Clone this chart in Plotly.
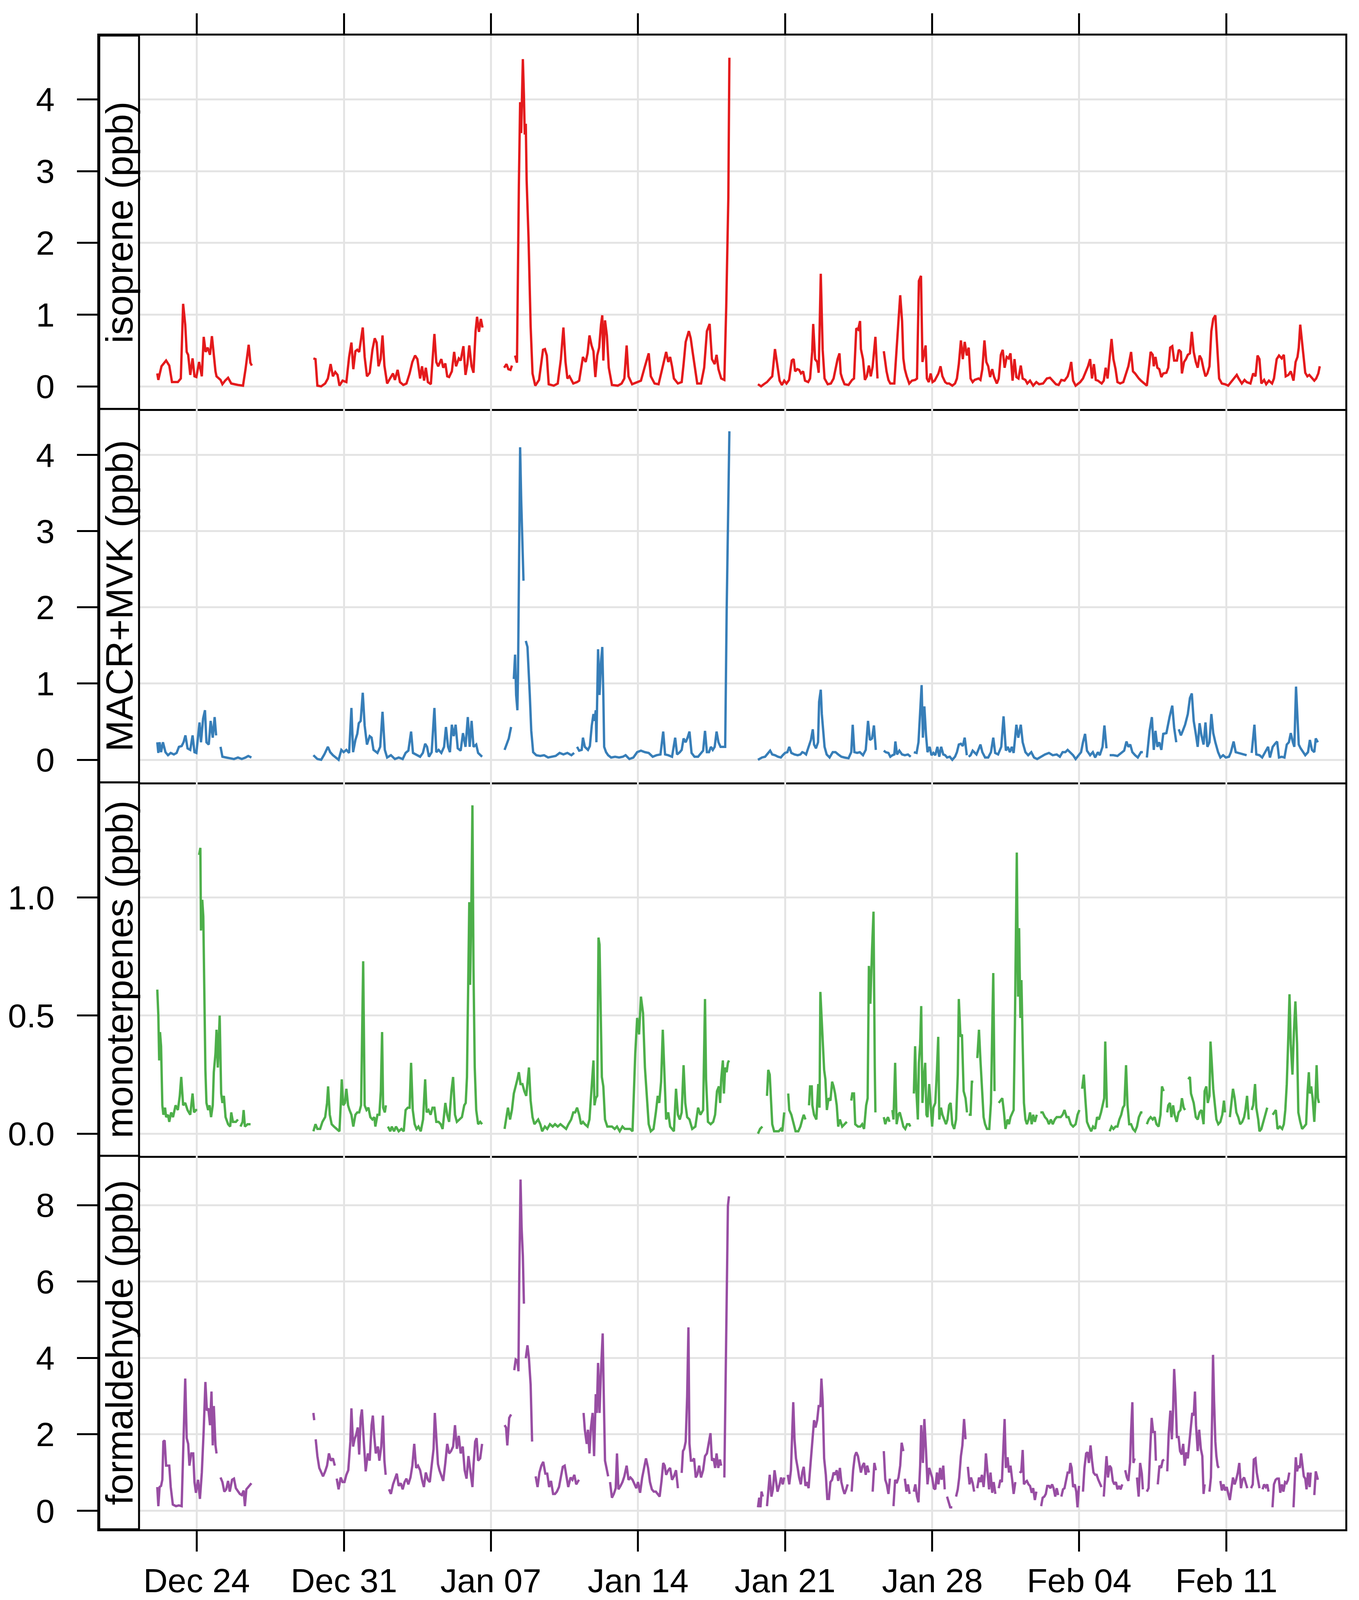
import plotly.graph_objects as go
from plotly.subplots import make_subplots
from datetime import datetime, timedelta

# time is given in days after Dec 24 00:00, None breaks the line
start = datetime(2014, 12, 24)

isoprene = [
    (-1.88,0.18),(-1.83,0.09),(-1.68,0.28),(-1.46,0.36),(-1.31,0.29),(-1.18,0.06),(-0.9,0.06),(-0.76,0.11),
    (-0.65,1.15),(-0.55,0.86),(-0.48,0.48),(-0.41,0.44),(-0.31,0.16),(-0.2,0.39),(-0.11,0.14),(-0.02,0.13),
    (0.11,0.34),(0.24,0.14),(0.33,0.69),(0.42,0.48),(0.52,0.54),(0.63,0.44),(0.72,0.70),(0.81,0.39),
    (0.89,0.21),(0.94,0.14),(1.13,0.09),(1.22,0.03),(1.35,0.08),(1.49,0.12),(1.64,0.04),(1.96,0.02),
    (2.2,0.01),(2.32,0.24),(2.47,0.58),(2.55,0.33),(2.62,0.29), None,
    (5.55,0.39),(5.65,0.38),(5.74,0.01),(5.92,0.0),(6.11,0.04),(6.24,0.11),(6.37,0.31),(6.48,0.14),
    (6.59,0.2),(6.7,0.16),(6.79,0.01),(6.94,0.08),(7.12,0.06),(7.25,0.41),(7.36,0.61),(7.45,0.24),
    (7.55,0.49),(7.64,0.51),(7.73,0.48),(7.9,0.82),(7.99,0.41),(8.1,0.14),(8.23,0.19),(8.36,0.51),
    (8.47,0.67),(8.56,0.61),(8.65,0.28),(8.75,0.38),(8.84,0.71),(8.93,0.29),(9.06,0.04),(9.19,0.11),
    (9.34,0.18),(9.43,0.09),(9.56,0.23),(9.67,0.06),(9.83,0.02),(9.98,0.04),(10.13,0.18),(10.26,0.34),
    (10.39,0.43),(10.5,0.38),(10.63,0.11),(10.72,0.28),(10.82,0.08),(10.9,0.26),(11.0,0.06),(11.14,0.03),
    (11.31,0.73),(11.4,0.34),(11.49,0.28),(11.64,0.38),(11.73,0.26),(11.83,0.32),(11.92,0.14),(12.01,0.13),
    (12.14,0.21),(12.25,0.48),(12.34,0.28),(12.47,0.39),(12.56,0.36),(12.69,0.56),(12.79,0.16),(12.88,0.31),
    (12.97,0.57),(13.08,0.28),(13.17,0.19),(13.27,0.77),(13.34,0.97),(13.43,0.76),(13.52,0.94),(13.6,0.82), None,
    (14.63,0.26),(14.74,0.31),(14.83,0.24),(14.93,0.23),(15.0,0.29), None,
    (15.15,0.43),(15.24,0.33),(15.33,2.8),(15.39,3.96),(15.44,3.53),(15.52,4.56),(15.57,4.06),(15.61,3.51),
    (15.66,3.66),(15.7,2.87),(15.79,2.07),(15.89,0.84),(15.98,0.18),(16.11,0.01),(16.29,0.09),(16.48,0.51),
    (16.57,0.52),(16.66,0.43),(16.75,0.03),(16.99,0.01),(17.18,0.04),(17.33,0.38),(17.45,0.82),(17.55,0.34),
    (17.64,0.11),(17.74,0.14),(17.92,0.04),(18.1,0.06),(18.2,0.08),(18.38,0.41),(18.51,0.34),(18.6,0.46),
    (18.69,0.71),(18.79,0.57),(18.88,0.49),(18.97,0.13),(19.06,0.43),(19.15,0.54),(19.24,0.86),(19.3,0.99),
    (19.35,0.36),(19.43,0.92),(19.52,0.71),(19.61,0.26),(19.76,0.02),(20.04,0.01),(20.22,0.04),(20.35,0.11),
    (20.46,0.57),(20.55,0.14),(20.72,0.03),(20.96,0.06),(21.14,0.08),(21.33,0.28),(21.51,0.46),(21.61,0.14),
    (21.79,0.04),(21.98,0.03),(22.16,0.26),(22.34,0.48),(22.44,0.34),(22.53,0.41),(22.62,0.28),(22.71,0.11),
    (22.9,0.04),(23.08,0.06),(23.17,0.31),(23.27,0.62),(23.42,0.77),(23.51,0.67),(23.6,0.48),(23.73,0.24),
    (23.82,0.04),(24.0,0.04),(24.15,0.26),(24.28,0.77),(24.41,0.87),(24.52,0.38),(24.65,0.31),(24.74,0.44),
    (24.83,0.24),(24.96,0.11),(25.11,0.09),(25.2,1.11),(25.3,2.63),(25.35,4.58), None,
    (26.71,0.03),(26.86,0.0),(26.99,0.03),(27.14,0.06),(27.29,0.11),(27.39,0.14),(27.52,0.52),(27.59,0.38),
    (27.66,0.29),(27.74,0.08),(27.85,0.02),(27.96,0.08),(28.07,0.04),(28.19,0.09),(28.32,0.36),(28.41,0.38),
    (28.48,0.21),(28.58,0.24),(28.67,0.23),(28.76,0.18),(28.86,0.21),(28.95,0.08),(29.1,0.06),(29.19,0.11),
    (29.29,0.48),(29.34,0.87),(29.43,0.38),(29.53,0.34),(29.6,0.19),(29.7,1.57),(29.79,0.51),(29.88,0.11),
    (30.03,0.03),(30.18,0.04),(30.31,0.11),(30.4,0.24),(30.5,0.38),(30.59,0.46),(30.65,0.18),(30.72,0.11),
    (30.83,0.03),(31.02,0.02),(31.19,0.09),(31.28,0.11),(31.39,0.81),(31.48,0.79),(31.57,0.91),(31.61,0.52),
    (31.71,0.38),(31.8,0.09),(31.89,0.14),(31.99,0.29),(32.08,0.14),(32.17,0.28),(32.3,0.69),(32.4,0.11), None,
    (32.7,0.49),(32.83,0.21),(32.92,0.09),(33.01,0.04),(33.2,0.04),(33.29,0.41),(33.37,0.82),(33.48,1.27),
    (33.57,0.91),(33.63,0.39),(33.7,0.24),(33.79,0.14),(33.91,0.04),(34.04,0.08),(34.19,0.09),(34.28,0.11),
    (34.37,1.47),(34.47,1.54),(34.54,0.34),(34.6,0.44),(34.69,0.57),(34.75,0.11),(34.84,0.06),(34.93,0.18),
    (35.02,0.06),(35.12,0.08),(35.21,0.14),(35.3,0.18),(35.4,0.28),(35.49,0.14),(35.62,0.06),(35.71,0.04),
    (35.81,0.04),(35.96,0.01),(36.09,0.04),(36.18,0.11),(36.27,0.31),(36.37,0.64),(36.46,0.38),(36.55,0.62),
    (36.65,0.43),(36.74,0.54),(36.83,0.11),(36.93,0.06),(37.02,0.09),(37.21,0.11),(37.3,0.09),(37.39,0.24),
    (37.49,0.64),(37.58,0.34),(37.67,0.28),(37.76,0.13),(37.86,0.24),(37.95,0.13),(38.08,0.04),(38.17,0.11),
    (38.27,0.44),(38.36,0.51),(38.45,0.26),(38.55,0.41),(38.64,0.39),(38.73,0.46),(38.83,0.08),(38.92,0.38),
    (39.01,0.13),(39.11,0.11),(39.22,0.29),(39.31,0.11),(39.44,0.09),(39.53,0.04),(39.66,0.08),(39.81,0.01),
    (39.96,0.06),(40.09,0.03),(40.28,0.04),(40.46,0.11),(40.61,0.12),(40.74,0.08),(40.89,0.03),(41.02,0.02),
    (41.15,0.09),(41.3,0.08),(41.45,0.14),(41.55,0.24),(41.62,0.34),(41.71,0.08),(41.83,0.01),(41.96,0.04),
    (42.05,0.06),(42.18,0.11),(42.33,0.21),(42.42,0.28),(42.52,0.38),(42.61,0.11),(42.7,0.31),(42.79,0.09),
    (42.89,0.08),(43.07,0.04),(43.17,0.08),(43.26,0.26),(43.35,0.11),(43.45,0.38),(43.54,0.66),(43.63,0.38),
    (43.73,0.24),(43.82,0.06),(43.95,0.04),(44.1,0.06),(44.23,0.18),(44.34,0.28),(44.47,0.48),(44.56,0.21),
    (44.66,0.18),(44.75,0.14),(44.84,0.11),(44.94,0.08),(45.12,0.04),(45.22,0.01),(45.31,0.24),(45.4,0.48),
    (45.5,0.44),(45.55,0.28),(45.63,0.41),(45.72,0.26),(45.81,0.24),(45.91,0.13),(46.0,0.18),(46.15,0.19),
    (46.24,0.26),(46.33,0.54),(46.43,0.56),(46.52,0.36),(46.65,0.36),(46.74,0.51),(46.84,0.48),(46.89,0.18),
    (46.99,0.34),(47.08,0.38),(47.17,0.44),(47.27,0.46),(47.36,0.76),(47.45,0.48),(47.55,0.34),(47.64,0.26),
    (47.73,0.43),(47.82,0.38),(47.92,0.24),(48.01,0.14),(48.1,0.18),(48.2,0.28),(48.29,0.77),(48.38,0.94),
    (48.48,0.99),(48.57,0.57),(48.66,0.11),(48.79,0.04),(48.94,0.03),(49.09,0.01),(49.22,0.06),(49.35,0.11),
    (49.5,0.16),(49.59,0.11),(49.74,0.04),(49.87,0.09),(49.97,0.06),(50.15,0.04),(50.28,0.18),(50.39,0.14),
    (50.49,0.43),(50.58,0.38),(50.67,0.04),(50.8,0.09),(50.9,0.03),(51.03,0.08),(51.18,0.04),(51.27,0.11),
    (51.4,0.38),(51.51,0.43),(51.64,0.39),(51.74,0.44),(51.83,0.14),(51.96,0.16),(52.07,0.21),(52.2,0.08),
    (52.3,0.34),(52.39,0.41),(52.45,0.54),(52.52,0.86),(52.61,0.61),(52.67,0.38),(52.76,0.19),(52.86,0.14),
    (52.95,0.16),(53.04,0.13),(53.19,0.08),(53.28,0.11),(53.38,0.18),(53.45,0.28),
]

macr_mvk = [
    (-1.88,0.23),(-1.83,0.09),(-1.77,0.23),(-1.7,0.1),(-1.61,0.23),(-1.49,0.1),(-1.37,0.06),(-1.24,0.09),
    (-1.09,0.07),(-0.96,0.09),(-0.85,0.17),(-0.72,0.18),(-0.63,0.23),(-0.54,0.32),(-0.44,0.15),(-0.31,0.13),
    (-0.2,0.32),(-0.11,0.1),(-0.02,0.09),(0.13,0.49),(0.2,0.23),(0.3,0.54),(0.39,0.65),(0.46,0.23),
    (0.57,0.2),(0.66,0.51),(0.76,0.29),(0.85,0.56),(0.92,0.32), None,
    (1.13,0.17),(1.22,0.04),(1.4,0.03),(1.59,0.02),(1.77,0.01),(1.96,0.03),(2.14,0.01),(2.32,0.03),
    (2.45,0.05),(2.6,0.03), None,
    (5.55,0.06),(5.74,0.01),(5.92,0.0),(6.07,0.07),(6.24,0.17),(6.35,0.1),(6.48,0.06),(6.62,0.03),
    (6.75,0.0),(6.88,0.13),(6.99,0.1),(7.12,0.13),(7.25,0.09),(7.36,0.68),(7.44,0.1),(7.55,0.26),
    (7.64,0.34),(7.71,0.48),(7.8,0.51),(7.9,0.88),(7.99,0.45),(8.1,0.2),(8.23,0.31),(8.32,0.29),
    (8.41,0.13),(8.6,0.09),(8.73,0.17),(8.84,0.63),(8.95,0.13),(9.06,0.03),(9.24,0.06),(9.43,0.01),
    (9.61,0.03),(9.8,0.01),(9.94,0.09),(10.07,0.12),(10.2,0.37),(10.29,0.09),(10.44,0.07),(10.63,0.04),
    (10.76,0.09),(10.87,0.21),(10.96,0.17),(11.05,0.04),(11.18,0.1),(11.31,0.68),(11.4,0.1),(11.51,0.13),
    (11.64,0.09),(11.77,0.17),(11.86,0.43),(11.96,0.17),(12.05,0.1),(12.14,0.46),(12.23,0.31),(12.32,0.46),
    (12.42,0.15),(12.56,0.12),(12.67,0.35),(12.79,0.17),(12.9,0.56),(12.99,0.17),(13.08,0.51),(13.17,0.17),
    (13.3,0.2),(13.39,0.09),(13.58,0.04), None,
    (14.65,0.13),(14.74,0.2),(14.85,0.28),(14.96,0.43), None,
    (15.09,1.06),(15.15,1.38),(15.2,0.85),(15.26,0.65),(15.29,1.13),(15.33,2.42),(15.39,4.1),(15.44,3.42),
    (15.5,2.85),(15.55,2.35), None,
    (15.66,1.56),(15.74,1.48),(15.85,0.85),(15.92,0.38),(16.01,0.1),(16.16,0.06),(16.35,0.05),(16.53,0.06),
    (16.72,0.03),(16.9,0.04),(17.08,0.05),(17.27,0.09),(17.45,0.07),(17.64,0.09),(17.83,0.06),(17.96,0.09), None,
    (18.1,0.17),(18.2,0.12),(18.32,0.13),(18.38,0.29),(18.47,0.17),(18.62,0.13),(18.71,0.18),(18.8,0.45),
    (18.88,0.6),(18.93,0.51),(18.99,0.65),(19.02,0.23),(19.1,1.45),(19.17,0.85),(19.24,1.29),(19.3,1.48),
    (19.35,0.85),(19.39,0.17),(19.48,0.1),(19.58,0.06),(19.72,0.03),(19.91,0.04),(20.1,0.03),(20.28,0.04),
    (20.41,0.06),(20.59,0.01),(20.78,0.03),(20.96,0.1),(21.14,0.12),(21.33,0.1),(21.51,0.09),(21.7,0.04),
    (21.88,0.06),(22.07,0.07),(22.2,0.37),(22.29,0.07),(22.44,0.06),(22.62,0.04),(22.77,0.29),(22.86,0.07),
    (22.99,0.1),(23.08,0.13),(23.17,0.28),(23.27,0.23),(23.36,0.29),(23.45,0.37),(23.55,0.09),(23.69,0.04),
    (23.86,0.04),(24.0,0.09),(24.1,0.12),(24.19,0.38),(24.28,0.1),(24.38,0.1),(24.47,0.17),(24.56,0.13),
    (24.65,0.17),(24.74,0.37),(24.83,0.23),(24.93,0.17),(25.07,0.17),(25.15,0.17),(25.22,1.95),(25.3,3.35),
    (25.35,4.31), None,
    (26.71,0.0),(26.9,0.03),(27.05,0.04),(27.18,0.09),(27.29,0.12),(27.39,0.07),(27.52,0.06),(27.66,0.04),
    (27.8,0.03),(27.89,0.06),(28.0,0.09),(28.11,0.1),(28.2,0.17),(28.3,0.09),(28.45,0.07),(28.6,0.06),
    (28.73,0.07),(28.82,0.1),(28.91,0.09),(29.0,0.07),(29.14,0.18),(29.23,0.26),(29.32,0.4),(29.38,0.2),
    (29.47,0.15),(29.57,0.23),(29.62,0.76),(29.7,0.92),(29.75,0.6),(29.81,0.42),(29.88,0.17),(29.98,0.07),
    (30.12,0.03),(30.27,0.1),(30.4,0.1),(30.53,0.07),(30.68,0.04),(30.83,0.03),(31.02,0.02),(31.15,0.1),
    (31.22,0.46),(31.3,0.1),(31.43,0.09),(31.56,0.1),(31.71,0.06),(31.84,0.13),(31.95,0.51),(32.04,0.26),
    (32.14,0.28),(32.23,0.45),(32.32,0.13), None,
    (32.7,0.12),(32.79,0.1),(32.92,0.09),(33.01,0.04),(33.11,0.06),(33.2,0.07),(33.25,0.24),(33.33,0.07),
    (33.44,0.12),(33.57,0.07),(33.7,0.06),(33.85,0.07),(33.98,0.04), None,
    (34.13,0.1),(34.26,0.09),(34.35,0.23),(34.43,0.7),(34.5,0.98),(34.56,0.29),(34.63,0.7),(34.71,0.32),
    (34.78,0.1),(34.88,0.17),(34.97,0.06),(35.06,0.09),(35.15,0.06),(35.25,0.17),(35.34,0.04),(35.43,0.17),
    (35.53,0.07),(35.62,0.06),(35.71,0.03),(35.84,0.04),(35.96,0.0),(36.09,0.04),(36.18,0.1),(36.27,0.2),
    (36.37,0.21),(36.46,0.18),(36.55,0.29),(36.65,0.06), None,
    (36.74,0.04),(36.83,0.06),(36.93,0.12),(37.02,0.09),(37.11,0.07),(37.2,0.13),(37.3,0.2),(37.39,0.1),
    (37.52,0.03),(37.67,0.03),(37.8,0.1),(37.91,0.29),(38.0,0.09),(38.14,0.07),(38.29,0.17),(38.4,0.57),
    (38.51,0.12),(38.6,0.17),(38.7,0.1),(38.79,0.17),(38.88,0.09),(39.01,0.46),(39.1,0.29),(39.22,0.46),
    (39.31,0.23),(39.44,0.1),(39.57,0.06),(39.72,0.1),(39.85,0.03),(40.0,0.01),(40.19,0.04),(40.37,0.07),
    (40.56,0.09),(40.74,0.06),(40.93,0.07),(41.08,0.04),(41.21,0.1),(41.34,0.1),(41.45,0.13),(41.58,0.09),
    (41.71,0.06),(41.83,0.01),(41.96,0.06),(42.09,0.1),(42.18,0.23),(42.28,0.34),(42.37,0.12),(42.52,0.06),
    (42.65,0.1),(42.76,0.03),(42.89,0.1),(42.98,0.06),(43.11,0.17),(43.2,0.45),(43.3,0.15), None,
    (43.45,0.06),(43.63,0.06),(43.82,0.05),(44.0,0.09),(44.14,0.12),(44.25,0.24),(44.34,0.17),(44.43,0.2),
    (44.53,0.1),(44.66,0.06),(44.79,0.03),(44.94,0.1),(45.03,0.1), None,
    (45.22,0.03),(45.35,0.38),(45.46,0.56),(45.55,0.13),(45.63,0.38),(45.72,0.17),(45.81,0.23),(45.91,0.13),
    (46.0,0.34),(46.15,0.35),(46.3,0.56),(46.43,0.71),(46.52,0.42),(46.62,0.23), None,
    (46.74,0.4),(46.84,0.32),(46.93,0.38),(47.04,0.46),(47.17,0.6),(47.27,0.81),(47.36,0.87),(47.45,0.51),
    (47.55,0.34),(47.64,0.17),(47.73,0.48),(47.82,0.32),(47.92,0.2),(48.01,0.49),(48.1,0.17),(48.2,0.23),
    (48.29,0.6),(48.38,0.35),(48.48,0.23),(48.61,0.1),(48.72,0.03),(48.85,0.06),(48.98,0.03),(49.13,0.04),
    (49.22,0.1),(49.35,0.24),(49.45,0.1),(49.59,0.09),(49.78,0.07),(49.97,0.06), None,
    (50.21,0.09),(50.34,0.46),(50.43,0.07),(50.58,0.06),(50.71,0.03),(50.84,0.1),(50.99,0.17),(51.08,0.03),
    (51.21,0.17),(51.32,0.21),(51.42,0.24),(51.51,0.03),(51.64,0.04),(51.77,0.03),(51.88,0.2),(51.98,0.23),
    (52.07,0.35),(52.17,0.23),(52.24,0.17),(52.32,0.96),(52.39,0.54),(52.45,0.2),(52.54,0.15),(52.67,0.09),
    (52.76,0.06),(52.89,0.1),(52.98,0.26),(53.08,0.13),(53.19,0.1),(53.26,0.28),(53.36,0.23),
]

monoterpenes = [
    (-1.88,0.61),(-1.83,0.5),(-1.79,0.31),(-1.75,0.43),(-1.7,0.37),(-1.64,0.12),(-1.59,0.08),(-1.51,0.11),
    (-1.46,0.07),(-1.37,0.08),(-1.31,0.05),(-1.22,0.09),(-1.13,0.07),(-1.01,0.12),(-0.9,0.1),(-0.81,0.16),
    (-0.74,0.24),(-0.65,0.12),(-0.55,0.13),(-0.44,0.1),(-0.31,0.08),(-0.2,0.17),(-0.13,0.09),(-0.04,0.1),
    (0.02,0.1), None,
    (0.11,1.18),(0.17,1.21),(0.2,0.86),(0.26,0.99),(0.31,0.92),(0.35,0.66),(0.41,0.27),(0.46,0.13),
    (0.54,0.1),(0.61,0.12),(0.68,0.07),(0.76,0.12),(0.81,0.26),(0.89,0.34),(0.94,0.44),(1.0,0.28),
    (1.09,0.5),(1.16,0.17),(1.22,0.13),(1.29,0.16),(1.37,0.07),(1.49,0.04),(1.59,0.03),(1.64,0.09),
    (1.72,0.05),(1.86,0.05),(1.96,0.06), None,
    (2.08,0.03),(2.18,0.05),(2.23,0.1),(2.29,0.03),(2.42,0.04),(2.56,0.04), None,
    (5.55,0.01),(5.65,0.04),(5.74,0.02),(5.87,0.02),(5.98,0.05),(6.11,0.07),(6.2,0.13),(6.25,0.2),
    (6.33,0.08),(6.42,0.04),(6.53,0.03),(6.66,0.02),(6.79,0.01),(6.85,0.12),(6.9,0.23),(6.97,0.12),
    (7.05,0.13),(7.12,0.19),(7.2,0.12),(7.27,0.1),(7.36,0.08),(7.45,0.03),(7.55,0.08),(7.64,0.09),
    (7.73,0.09),(7.82,0.12),(7.88,0.42),(7.92,0.73),(7.99,0.12),(8.08,0.1),(8.17,0.11),(8.26,0.07),
    (8.36,0.06),(8.45,0.07),(8.5,0.03),(8.6,0.08),(8.69,0.08),(8.76,0.18),(8.82,0.43),(8.87,0.11),
    (8.95,0.09),(9.0,0.12), None,
    (9.1,0.03),(9.21,0.01),(9.28,0.03),(9.39,0.01),(9.48,0.03),(9.61,0.01),(9.74,0.02),(9.85,0.01),
    (9.94,0.1),(10.04,0.11),(10.13,0.11),(10.2,0.3),(10.28,0.1),(10.37,0.04),(10.46,0.02),(10.55,0.03),
    (10.66,0.01),(10.77,0.06),(10.87,0.23),(10.94,0.09),(11.03,0.1),(11.13,0.08),(11.22,0.11),(11.31,0.11),
    (11.4,0.05),(11.51,0.05),(11.61,0.04),(11.7,0.02),(11.83,0.13),(11.92,0.08),(12.01,0.05),(12.12,0.18),
    (12.2,0.24),(12.29,0.08),(12.38,0.05),(12.49,0.06),(12.62,0.07),(12.73,0.12),(12.8,0.13),(12.86,0.24),
    (12.92,0.72),(12.97,0.98),(13.01,0.63),(13.06,0.9),(13.12,1.39),(13.17,0.7),(13.23,0.28),(13.3,0.1),
    (13.39,0.04),(13.49,0.05),(13.58,0.04), None,
    (14.65,0.02),(14.74,0.08),(14.81,0.11),(14.91,0.06),(15.0,0.1),(15.09,0.17),(15.18,0.2),(15.26,0.23),
    (15.33,0.26),(15.41,0.21),(15.5,0.21),(15.59,0.18),(15.68,0.16),(15.76,0.23),(15.81,0.28),(15.89,0.14),
    (15.98,0.07),(16.07,0.04),(16.16,0.05),(16.25,0.06),(16.35,0.04),(16.44,0.01),(16.57,0.03),(16.68,0.02),
    (16.81,0.04),(16.94,0.03),(17.05,0.04),(17.18,0.03),(17.31,0.04),(17.46,0.03),(17.58,0.02),(17.69,0.04),
    (17.82,0.06),(17.92,0.09),(18.01,0.09),(18.1,0.11),(18.2,0.08),(18.29,0.04),(18.38,0.05),(18.47,0.04),
    (18.6,0.03),(18.69,0.06),(18.77,0.18),(18.82,0.24),(18.88,0.31),(18.93,0.12),(18.99,0.15),(19.06,0.16),
    (19.12,0.83),(19.17,0.8),(19.23,0.52),(19.28,0.24),(19.35,0.2),(19.43,0.06),(19.54,0.03),(19.67,0.03),
    (19.76,0.03),(19.89,0.02),(20.0,0.03),(20.13,0.01),(20.26,0.03),(20.37,0.02),(20.5,0.02),(20.63,0.02),
    (20.74,0.01),(20.81,0.18),(20.87,0.34),(20.96,0.49),(21.05,0.42),(21.14,0.58),(21.24,0.51),(21.33,0.28),
    (21.42,0.16),(21.51,0.04),(21.61,0.01),(21.74,0.02),(21.85,0.09),(21.94,0.16),(22.01,0.13),(22.1,0.22),
    (22.18,0.44),(22.25,0.25),(22.34,0.06),(22.44,0.09),(22.53,0.03),(22.62,0.02),(22.71,0.01),(22.81,0.19),
    (22.9,0.08),(22.99,0.06),(23.08,0.09),(23.17,0.29),(23.25,0.13),(23.34,0.07),(23.45,0.06),(23.58,0.02),
    (23.73,0.03),(23.86,0.11),(23.97,0.08),(24.1,0.1),(24.15,0.43),(24.19,0.57),(24.24,0.23),(24.33,0.05),
    (24.46,0.04),(24.58,0.05),(24.67,0.08),(24.76,0.18),(24.85,0.2),(24.91,0.13),(24.96,0.23),(25.04,0.31),
    (25.09,0.17),(25.15,0.28),(25.22,0.26),(25.28,0.3),(25.33,0.31), None,
    (26.71,0.0),(26.81,0.02),(26.92,0.03), None,
    (27.14,0.16),(27.2,0.27),(27.27,0.25),(27.33,0.14),(27.39,0.04),(27.48,0.01),(27.59,0.01),(27.7,0.01),
    (27.8,0.02),(27.87,0.01),(27.96,0.09), None,
    (28.15,0.17),(28.2,0.1),(28.3,0.08),(28.41,0.04),(28.5,0.01),(28.63,0.01),(28.73,0.03),(28.82,0.06),
    (28.89,0.08),(28.97,0.06), None,
    (29.14,0.12),(29.19,0.2),(29.27,0.2),(29.3,0.12),(29.38,0.08),(29.49,0.06),(29.58,0.21),(29.64,0.11),
    (29.68,0.6),(29.75,0.48),(29.79,0.38),(29.86,0.27),(29.92,0.23),(29.99,0.1),(30.07,0.15),(30.16,0.14),
    (30.24,0.22),(30.31,0.2),(30.38,0.17),(30.46,0.12),(30.53,0.03),(30.61,0.06),(30.72,0.03),(30.83,0.04),
    (30.94,0.05), None,
    (31.15,0.14),(31.2,0.17),(31.28,0.17),(31.34,0.04),(31.47,0.03),(31.58,0.03),(31.67,0.04),(31.76,0.02),
    (31.86,0.12),(31.93,0.15),(31.99,0.71),(32.06,0.55),(32.14,0.78),(32.21,0.94),(32.27,0.28),(32.3,0.09), None,
    (32.7,0.07),(32.77,0.04),(32.84,0.06),(32.9,0.07),(32.97,0.05), None,
    (33.11,0.1),(33.16,0.06),(33.24,0.3),(33.31,0.04),(33.39,0.08),(33.46,0.09),(33.55,0.06),(33.63,0.03),
    (33.72,0.02),(33.81,0.04),(33.91,0.04),(33.96,0.03), None,
    (34.13,0.17),(34.19,0.37),(34.24,0.2),(34.32,0.06),(34.37,0.3),(34.43,0.38),(34.48,0.54),(34.54,0.13),
    (34.6,0.23),(34.67,0.3),(34.73,0.08),(34.78,0.07),(34.86,0.21),(34.93,0.13),(35.0,0.03),(35.06,0.11),
    (35.15,0.13),(35.23,0.27),(35.29,0.41),(35.34,0.06),(35.42,0.11),(35.49,0.08),(35.58,0.06),(35.66,0.04),
    (35.73,0.06),(35.81,0.12),(35.88,0.13),(35.96,0.04),(36.05,0.02),(36.14,0.06),(36.22,0.25),(36.27,0.57),
    (36.35,0.41),(36.42,0.42),(36.5,0.18),(36.59,0.15),(36.66,0.09), None,
    (36.74,0.08),(36.83,0.08),(36.89,0.22),(36.96,0.22), None,
    (37.15,0.32),(37.23,0.44),(37.3,0.31),(37.37,0.18),(37.45,0.07),(37.52,0.04),(37.61,0.02),(37.72,0.02),
    (37.8,0.13),(37.86,0.44),(37.91,0.68),(37.97,0.18), None,
    (38.17,0.13),(38.27,0.14),(38.34,0.15),(38.42,0.09),(38.49,0.02),(38.59,0.06),(38.66,0.04),(38.73,0.07),
    (38.83,0.09),(38.88,0.1),(38.94,0.46),(38.99,0.86),(39.03,1.19),(39.09,0.58),(39.14,0.87),(39.2,0.49),
    (39.25,0.65),(39.31,0.38),(39.37,0.13),(39.44,0.06),(39.51,0.04),(39.59,0.06),(39.66,0.09),(39.74,0.04),
    (39.81,0.08),(39.89,0.05),(39.98,0.08), None,
    (40.15,0.09),(40.26,0.09),(40.37,0.07),(40.47,0.06),(40.56,0.04),(40.65,0.06),(40.74,0.04),(40.84,0.06),
    (40.93,0.07),(41.02,0.07),(41.12,0.07),(41.21,0.08),(41.3,0.1),(41.4,0.07),(41.49,0.07),(41.6,0.04),
    (41.71,0.03),(41.83,0.04),(41.92,0.08),(42.01,0.1), None,
    (42.14,0.19),(42.22,0.25),(42.29,0.15),(42.37,0.05),(42.46,0.03),(42.57,0.01),(42.66,0.03),(42.76,0.02),
    (42.85,0.07),(42.94,0.06),(43.04,0.09),(43.11,0.12),(43.19,0.15),(43.24,0.39),(43.32,0.11), None,
    (43.45,0.01),(43.54,0.03),(43.63,0.02),(43.73,0.03),(43.82,0.03),(43.91,0.06),(44.0,0.08),(44.08,0.11),
    (44.15,0.12),(44.23,0.29),(44.3,0.12),(44.38,0.04),(44.47,0.04),(44.56,0.02),(44.66,0.01),(44.75,0.03),
    (44.84,0.07),(44.94,0.09),(45.01,0.09), None,
    (45.22,0.04),(45.31,0.06),(45.4,0.07),(45.5,0.06),(45.59,0.07),(45.68,0.04),(45.78,0.03),(45.87,0.08),
    (45.94,0.2),(46.02,0.18), None,
    (46.19,0.09),(46.24,0.12),(46.32,0.13),(46.39,0.07),(46.47,0.12),(46.54,0.08),(46.64,0.05),(46.73,0.09),
    (46.82,0.1),(46.89,0.15),(46.97,0.11),(47.04,0.1), None,
    (47.19,0.23),(47.27,0.24),(47.32,0.17),(47.38,0.15),(47.45,0.13),(47.55,0.07),(47.64,0.06),(47.73,0.09),
    (47.82,0.1),(47.92,0.04),(47.97,0.18),(48.05,0.2),(48.12,0.13),(48.2,0.16),(48.25,0.39),(48.31,0.3),
    (48.38,0.19),(48.46,0.12),(48.53,0.06),(48.62,0.04),(48.72,0.05),(48.81,0.08),(48.89,0.14),(48.94,0.09), None,
    (49.17,0.07),(49.24,0.13),(49.32,0.19),(49.4,0.15),(49.48,0.09),(49.57,0.07),(49.66,0.04),(49.76,0.05),
    (49.85,0.07),(49.91,0.1),(49.99,0.16),(50.07,0.06), None,
    (50.21,0.1),(50.28,0.12),(50.37,0.21),(50.43,0.11),(50.52,0.06),(50.58,0.01),(50.67,0.02),(50.77,0.05),
    (50.86,0.08),(50.95,0.11), None,
    (51.21,0.08),(51.29,0.09),(51.36,0.1),(51.44,0.02),(51.55,0.03),(51.66,0.02),(51.74,0.04),(51.81,0.1),
    (51.88,0.21),(51.96,0.43),(52.01,0.59),(52.07,0.38),(52.15,0.25),(52.22,0.43),(52.29,0.56),(52.37,0.38),
    (52.43,0.09),(52.52,0.05),(52.61,0.02),(52.71,0.03),(52.8,0.04),(52.87,0.18),(52.93,0.26),(52.98,0.17),
    (53.04,0.2),(53.11,0.15),(53.19,0.05),(53.24,0.14),(53.3,0.29),(53.36,0.15),(53.41,0.13),
]

formaldehyde = [
    (-1.88,0.62),(-1.83,0.12),(-1.77,0.62),(-1.7,0.65),(-1.64,0.81),(-1.59,1.81),(-1.53,1.84),(-1.46,1.18),
    (-1.38,1.18),(-1.31,1.18),(-1.24,0.62),(-1.14,0.16),(-0.99,0.12),(-0.85,0.14),(-0.72,0.12),(-0.63,1.93),
    (-0.55,3.46),(-0.48,1.9),(-0.41,1.75),(-0.35,1.18),(-0.26,1.5),(-0.17,1.5),(-0.11,0.75),(-0.04,0.47),
    (0.06,0.81),(0.15,0.31),(0.24,1.0),(0.33,2.12),(0.41,3.37),(0.48,2.62),(0.55,2.68),(0.63,2.24),
    (0.7,3.12),(0.76,1.71),(0.81,2.74),(0.89,1.71),(0.94,1.5), None,
    (1.13,0.87),(1.22,0.75),(1.31,0.5),(1.4,0.56),(1.49,0.78),(1.57,0.5),(1.68,0.81),(1.77,0.84),
    (1.86,0.59),(1.96,0.5),(2.05,0.44),(2.14,0.41),(2.23,0.53),(2.29,0.12),(2.36,0.56),(2.45,0.62),
    (2.6,0.72), None,
    (5.55,2.56),(5.59,2.37), None,
    (5.66,1.87),(5.74,1.43),(5.83,1.12),(5.92,1.0),(6.01,0.9),(6.11,1.03),(6.2,1.18),(6.29,1.5),
    (6.38,1.31),(6.48,1.37),(6.57,1.18), None,
    (6.66,0.84),(6.75,0.56),(6.85,0.87),(6.94,0.75),(7.03,0.75),(7.12,0.94),(7.21,1.06),(7.31,1.81),
    (7.36,2.68),(7.44,1.68),(7.51,1.87),(7.59,2.0),(7.66,2.18),(7.73,1.47),(7.8,2.43),(7.86,2.65),
    (7.95,1.81),(8.04,1.03),(8.14,1.5),(8.23,1.31),(8.32,2.24),(8.38,2.49),(8.45,1.93),(8.52,1.5),
    (8.62,1.68),(8.69,1.31),(8.78,1.68),(8.86,2.49),(8.93,1.31),(8.99,0.94), None,
    (9.15,0.56),(9.24,0.44),(9.34,0.69),(9.43,0.81),(9.52,0.97),(9.61,0.65),(9.71,0.72),(9.8,0.56),
    (9.89,0.75),(9.98,0.84),(10.07,0.69),(10.17,0.87),(10.26,1.18),(10.35,1.75),(10.44,1.12),(10.53,1.18),
    (10.63,1.06),(10.72,0.81),(10.81,0.62),(10.9,1.0),(11.0,0.81),(11.09,0.75),(11.18,1.18),(11.27,1.62),
    (11.33,2.56),(11.4,1.81),(11.48,1.22),(11.55,1.06),(11.64,0.94),(11.73,0.78),(11.83,1.25),(11.92,1.75),
    (12.01,1.5),(12.1,1.56),(12.2,1.68),(12.29,2.24),(12.38,1.62),(12.47,1.96),(12.56,1.5),(12.66,1.68),
    (12.75,1.06),(12.84,0.84),(12.93,1.43),(13.03,1.0),(13.12,0.62),(13.17,1.18),(13.25,1.81),(13.32,1.9),
    (13.39,1.31),(13.49,1.37),(13.58,1.75), None,
    (14.65,2.24),(14.72,2.18),(14.78,1.71),(14.87,2.43),(14.96,2.52), None,
    (15.11,3.68),(15.18,3.96),(15.26,3.93),(15.31,3.65),(15.35,6.17),(15.41,8.67),(15.46,7.42),(15.52,6.67),
    (15.57,5.42), None,
    (15.66,3.99),(15.74,4.33),(15.81,3.99),(15.89,3.3),(15.96,1.81), None,
    (16.13,0.9),(16.22,0.62),(16.31,1.0),(16.4,1.18),(16.49,1.28),(16.59,0.97),(16.68,0.97),(16.77,0.62),
    (16.86,0.78),(16.96,0.44),(17.05,0.44),(17.14,0.5),(17.24,0.62),(17.33,0.9),(17.42,1.15),(17.51,1.18),
    (17.59,0.87),(17.68,0.62),(17.79,0.87),(17.88,0.81),(17.97,0.94),(18.06,0.69),(18.19,0.81), None,
    (18.41,2.56),(18.47,2.12),(18.56,1.75),(18.62,2.12),(18.69,1.5),(18.76,2.18),(18.84,2.56),(18.91,1.43),
    (18.99,3.05),(19.04,2.56),(19.1,3.87),(19.17,2.56),(19.24,3.68),(19.32,4.64),(19.37,3.05),(19.43,1.31),
    (19.5,1.12),(19.58,0.9), None,
    (19.67,0.75),(19.76,0.34),(19.85,0.44),(19.94,0.59),(20.0,1.5),(20.07,0.56),(20.17,0.65),(20.26,0.75),
    (20.35,0.9),(20.46,1.18),(20.55,0.81),(20.64,0.87),(20.74,0.81),(20.83,0.69),(20.92,0.59),(21.0,0.75),
    (21.1,0.47),(21.2,0.87),(21.29,1.12),(21.38,1.37),(21.48,1.12),(21.57,0.75),(21.66,0.56),(21.75,0.5),
    (21.85,0.5),(21.94,0.44),(22.03,0.37),(22.12,0.78),(22.2,1.25),(22.27,1.18),(22.34,0.94),(22.44,1.06),
    (22.53,1.12),(22.62,0.81),(22.71,0.9),(22.81,1.06),(22.9,0.59), None,
    (23.08,0.99),(23.14,1.56),(23.2,1.62),(23.27,1.81),(23.34,2.99),(23.4,4.8),(23.45,1.75),(23.52,1.31),
    (23.6,1.31),(23.67,1.37),(23.75,0.87),(23.82,0.94),(23.91,1.18),(24.0,0.87),(24.1,1.06),(24.19,1.43),
    (24.28,1.5),(24.37,1.81),(24.45,2.03),(24.52,1.31),(24.6,1.37),(24.67,1.12),(24.74,1.5),(24.82,1.12),
    (24.9,1.34),(24.96,1.18), None,
    (25.11,0.87),(25.17,3.05),(25.22,5.55),(25.28,7.98),(25.33,8.23), None,
    (26.71,0.09),(26.77,0.34),(26.83,0.09),(26.88,0.5),(26.94,0.37), None,
    (27.14,0.12),(27.2,0.59),(27.27,0.94),(27.35,0.37),(27.42,0.56),(27.5,1.06),(27.57,0.75),(27.64,0.5),
    (27.74,0.69),(27.81,0.87),(27.89,0.69),(27.96,0.87), None,
    (28.13,0.94),(28.2,0.69),(28.28,1.06),(28.34,2.0),(28.39,2.84),(28.45,1.87),(28.52,1.37),(28.6,1.12),
    (28.67,0.87),(28.75,0.69),(28.82,1.0),(28.89,1.15),(28.97,0.65),(29.04,0.75),(29.12,0.59),(29.17,0.94),
    (29.25,1.5),(29.32,2.12),(29.38,2.37),(29.45,2.18),(29.53,2.37),(29.6,2.74),(29.68,2.74),(29.73,3.46),
    (29.79,2.87),(29.86,1.37),(29.94,0.94),(30.01,0.31),(30.09,0.31),(30.16,0.75),(30.24,0.81),(30.31,1.0),
    (30.38,0.94),(30.46,1.06),(30.53,0.78),(30.61,1.12),(30.68,0.75),(30.76,0.56),(30.83,0.44),(30.91,0.56),
    (30.98,0.69), None,
    (31.17,0.5),(31.24,1.06),(31.32,1.43),(31.39,1.53),(31.47,1.43),(31.54,1.25),(31.61,1.0),(31.69,1.18),
    (31.76,1.25),(31.84,0.94),(31.91,1.18),(31.99,1.0), None,
    (32.17,0.5),(32.25,1.25),(32.32,1.06), None,
    (32.7,1.56),(32.77,0.81),(32.84,0.69),(32.92,0.44),(32.99,0.84), None,
    (33.16,0.12),(33.24,0.81),(33.31,0.72),(33.4,0.87),(33.48,1.18),(33.55,1.78),(33.63,1.56), None,
    (33.7,0.84),(33.78,0.5),(33.85,0.69),(33.93,0.44), None,
    (34.13,0.5),(34.2,0.69),(34.28,0.37),(34.35,0.22),(34.43,1.18),(34.48,2.24),(34.56,1.25),(34.63,2.4),
    (34.71,1.56),(34.78,0.69),(34.86,1.12),(34.93,1.0),(35.0,0.87),(35.08,0.59),(35.15,0.56),(35.23,1.0),
    (35.3,0.69),(35.38,1.12),(35.45,0.81),(35.53,1.18),(35.6,0.56), None,
    (35.71,0.37),(35.79,0.19),(35.86,0.09),(35.96,0.09), None,
    (36.14,0.37),(36.22,0.56),(36.29,0.87),(36.37,1.43),(36.44,1.71),(36.52,2.4),(36.59,1.87), None,
    (36.7,1.15),(36.78,0.69),(36.85,0.87),(36.93,0.72),(37.0,0.5), None,
    (37.15,0.59),(37.23,0.87),(37.3,0.75),(37.37,0.94),(37.45,0.62),(37.52,1.06),(37.56,1.5),(37.63,1.0),
    (37.71,0.56),(37.78,1.0),(37.86,0.47),(37.93,0.75),(38.01,0.44), None,
    (38.17,0.59),(38.25,0.81),(38.32,0.75),(38.4,1.81),(38.45,2.4),(38.51,1.12),(38.59,1.4),(38.66,1.0),
    (38.73,1.18),(38.81,0.81),(38.88,0.44),(38.96,0.75), None,
    (39.16,1.03),(39.24,1.0),(39.31,1.59),(39.37,0.69),(39.44,0.75),(39.51,0.78),(39.59,0.69),(39.66,0.65),
    (39.74,0.47),(39.81,0.59),(39.89,0.28),(39.96,0.5), None,
    (40.19,0.12),(40.26,0.34),(40.34,0.37),(40.41,0.44),(40.48,0.65),(40.56,0.65),(40.63,0.59),(40.71,0.69),
    (40.78,0.59),(40.86,0.37),(40.93,0.59),(41.0,0.41), None,
    (41.15,0.37),(41.23,0.56),(41.3,0.59),(41.38,0.81),(41.45,1.0),(41.53,1.0),(41.58,1.25),(41.64,1.12),
    (41.71,0.62),(41.79,0.69),(41.86,0.5),(41.92,0.09),(41.99,0.65), None,
    (42.18,0.5),(42.25,1.12),(42.33,1.5),(42.4,1.53),(42.46,1.25),(42.54,1.71),(42.61,1.31),(42.68,1.0),
    (42.76,0.94),(42.83,0.94),(42.91,0.81),(42.98,0.72),(43.06,0.62), None,
    (43.17,0.37),(43.24,0.87),(43.3,1.43),(43.37,0.87),(43.45,1.18),(43.52,1.12),(43.6,0.78),(43.67,0.69),
    (43.75,0.75),(43.82,0.56),(43.9,0.65),(43.97,0.56),(44.05,0.69), None,
    (44.19,1.06),(44.27,0.87),(44.34,0.78),(44.42,1.25),(44.47,2.09),(44.53,2.84),(44.58,1.25),(44.64,1.37), None,
    (44.75,0.87),(44.83,0.37),(44.9,1.25),(44.98,0.97),(45.03,0.56), None,
    (45.22,0.5),(45.3,0.59),(45.37,1.5),(45.45,2.43),(45.52,2.06),(45.6,2.06),(45.65,1.31), None,
    (45.74,0.69),(45.82,1.18),(45.9,1.12),(45.97,1.31),(46.04,1.34), None,
    (46.19,1.03),(46.26,2.0),(46.34,2.62),(46.41,1.87),(46.47,2.68),(46.52,3.71),(46.58,3.05),(46.65,1.93),
    (46.73,1.93),(46.8,1.56),(46.88,1.47),(46.95,1.75),(47.02,1.18),(47.1,1.53),(47.17,1.37),(47.25,1.87),
    (47.32,2.18),(47.38,2.56),(47.45,2.49),(47.51,3.12),(47.56,2.24),(47.64,1.56),(47.71,2.12),(47.79,1.62),
    (47.86,1.43),(47.92,0.44),(47.97,0.69), None,
    (48.2,0.5),(48.27,0.87),(48.33,2.56),(48.37,4.08),(48.42,2.87),(48.48,1.81),(48.53,1.43),(48.59,1.18),
    (48.64,1.12), None,
    (48.72,0.78),(48.79,0.53),(48.87,0.69),(48.94,0.53),(49.02,0.62),(49.1,0.44),(49.17,0.28),(49.24,0.56),
    (49.32,0.87),(49.4,0.69),(49.47,0.81),(49.55,1.0),(49.62,1.25),(49.7,0.59),(49.77,0.81),(49.85,0.87),
    (49.92,0.75),(50.0,0.59), None,
    (50.18,0.59),(50.26,0.69),(50.31,1.34),(50.39,1.37),(50.45,1.0),(50.52,0.75),(50.58,0.59), None,
    (50.73,0.56),(50.8,0.69),(50.88,0.62),(50.95,0.69),(51.01,0.5), None,
    (51.2,0.09),(51.27,0.69),(51.35,0.81),(51.42,0.84),(51.5,0.84),(51.57,0.47),(51.65,0.69),(51.72,0.5),
    (51.8,0.75),(51.87,0.72),(51.94,0.81),(52.0,1.0), None,
    (52.2,0.09),(52.26,1.0),(52.31,1.4),(52.37,1.03),(52.43,1.18),(52.5,1.12),(52.56,1.5),(52.63,1.18),
    (52.69,0.9),(52.76,0.84),(52.82,0.56),(52.89,1.0),(52.97,0.62),(53.02,1.0), None,
    (53.19,0.41),(53.26,1.03),(53.36,0.81),
]

panel_names = ["isoprene (ppb)", "MACR+MVK (ppb)", "monoterpenes (ppb)", "formaldehyde (ppb)"]
panel_data = [isoprene, macr_mvk, monoterpenes, formaldehyde]
colors = ["#E41A1C", "#377EB8", "#4DAF4A", "#984EA3"]  # RColorBrewer Set1
y_ranges = [[-0.315, 4.889], [-0.297, 4.603], [-0.094, 1.487], [-0.486, 9.289]]
y_ticks = [[0, 1, 2, 3, 4], [0, 1, 2, 3, 4], [0.0, 0.5, 1.0], [0, 2, 4, 6, 8]]
y_tickformat = ["d", "d", ".1f", "d"]
week_ticks = ["2014-12-24", "2014-12-31", "2015-01-07", "2015-01-14",
              "2015-01-21", "2015-01-28", "2015-02-04", "2015-02-11"]
x_range = ["2014-12-19 08:35", "2015-02-16 16:00"]

font = "Liberation Sans, Arial, sans-serif"
grid = "#e4e4e4"

# the page body adds 8px on each side, so the figure is 16px smaller than the window
W, H, PAD = 3478, 4117, 8
plot_left, plot_right, plot_top, plot_bottom = 249, 3443, 91, 3915

fig = make_subplots(rows=4, cols=1, shared_xaxes=True, vertical_spacing=0)

for i, (pts, col) in enumerate(zip(panel_data, colors)):
    x = [start + timedelta(days=p[0]) if p else None for p in pts]
    y = [p[1] if p else None for p in pts]
    fig.add_trace(go.Scatter(x=x, y=y, mode="lines", line=dict(color=col, width=6),
                             showlegend=False, hoverinfo="skip"), row=i + 1, col=1)

for i in range(4):
    r = i + 1
    # only the top panel mirrors its x line, so each panel border is drawn once
    xa = dict(range=x_range, tickvals=week_ticks, showticklabels=False,
              showgrid=True, gridcolor=grid, gridwidth=5,
              showline=True, linecolor="black", linewidth=5, mirror=(r == 1),
              zeroline=False, tickcolor="black", tickwidth=5, ticklen=52)
    if r == 1:
        xa.update(side="top", ticks="outside")
    elif r == 4:
        xa.update(ticks="outside")
    else:
        xa.update(ticks="")
    fig.update_xaxes(row=r, col=1, **xa)

    fig.update_yaxes(row=r, col=1, range=y_ranges[i], tickvals=y_ticks[i],
                     tickformat=y_tickformat[i], ticks="outside", ticklen=52,
                     tickwidth=5, tickcolor="black", showgrid=True, gridcolor=grid,
                     gridwidth=5, showline=True, linecolor="black", linewidth=5,
                     mirror=True, zeroline=False, ticklabelstandoff=40,
                     tickfont=dict(family=font, size=86, color="black"))

# bottom date labels, placed under the ticks of the last panel
plot_h = plot_bottom - plot_top
for d in week_ticks:
    fig.add_annotation(text=datetime.strptime(d, "%Y-%m-%d").strftime("%b %d"),
                       xref="x4", yref="paper", x=d, y=-(4046 - plot_bottom) / plot_h,
                       showarrow=False, xanchor="center", yanchor="middle",
                       font=dict(family=font, size=86, color="black"))

# left strips with the panel names
strip_w = 102 / (plot_right - plot_left)
for i, name in enumerate(panel_names):
    dom = fig.layout["yaxis" if i == 0 else "yaxis%d" % (i + 1)].domain
    fig.add_shape(type="rect", xref="paper", yref="paper", x0=0, x1=strip_w,
                  y0=dom[0], y1=dom[1], fillcolor="white",
                  line=dict(color="black", width=5), layer="above")
    fig.add_annotation(text=name, xref="paper", yref="paper", x=strip_w / 2,
                       y=(dom[0] + dom[1]) / 2, textangle=-90, showarrow=False,
                       xanchor="center", yanchor="middle",
                       font=dict(family=font, size=96, color="black"))

fig.update_layout(width=W - 2 * PAD, height=H - 2 * PAD,
                  plot_bgcolor="white", paper_bgcolor="white", showlegend=False,
                  margin=dict(l=plot_left - PAD, r=W - PAD - plot_right,
                              t=plot_top - PAD, b=H - PAD - plot_bottom))

fig.write_html("out.html")
